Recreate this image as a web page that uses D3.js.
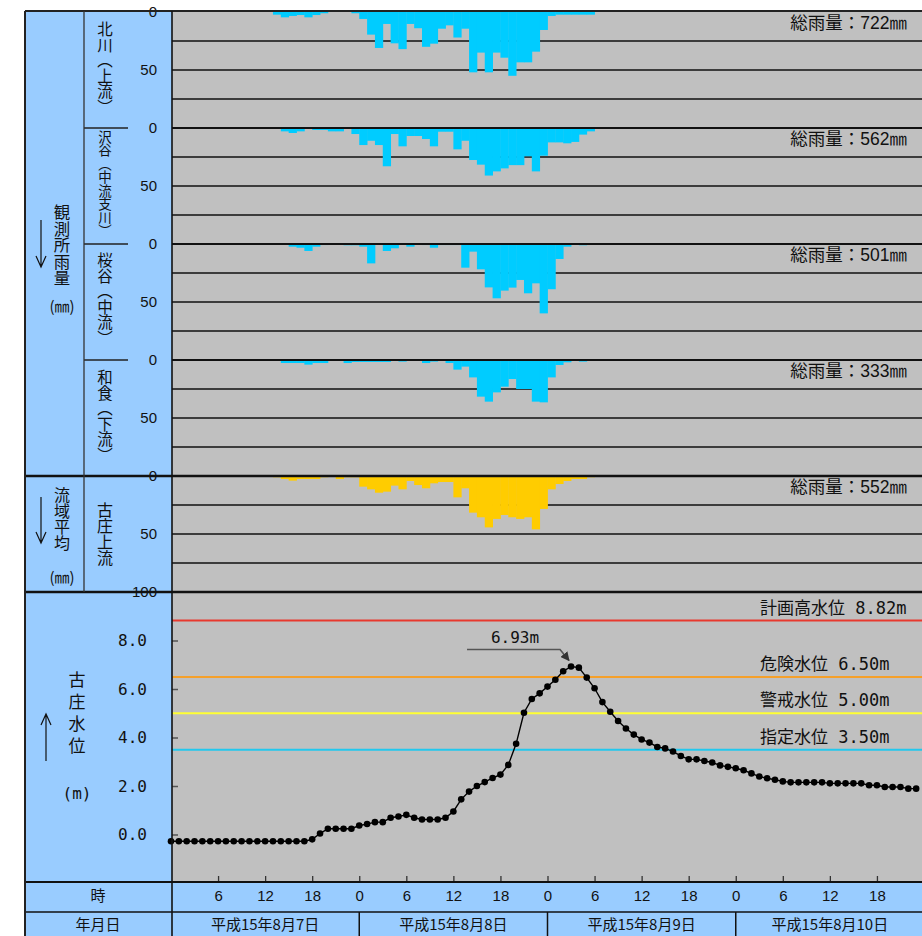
<!DOCTYPE html>
<html><head><meta charset="utf-8">
<script src="https://cdn.jsdelivr.net/npm/d3@7"></script>
<style>body{margin:0;background:#fff;} svg{display:block;} .vt{writing-mode:vertical-rl;}</style>
</head><body><svg id="c" width="922" height="936"></svg>
<script>
// ---------------- DATA ----------------
const hours = d3.range(96);
const hourTicks = d3.range(6, 96, 6);
const hourTickLabels = ["6","12","18","0","6","12","18","0","6","12","18","0","6","12","18"];
const dateLabels = ["平成15年8月7日","平成15年8月8日","平成15年8月9日","平成15年8月10日"];
const rainTicks = [0, 50];
const levelTicks = [0, 2, 4, 6, 8];
const stationNames = ["北川（上流）","沢谷（中流支川）","桜谷（中流）","和食（下流）","古庄上流"];
const totalRain = ["総雨量：722㎜","総雨量：562㎜","総雨量：501㎜","総雨量：333㎜","総雨量：552㎜"];

const rainKitagawa = [
 0,0,0,0,0,0,0,0,0,0,0,0,0,2.3,4.6,3.4,2.6,4.6,2.6,1.1,0,0,0,1.1,
 6,19.5,31,10.3,27,32,10.3,14,30,27.3,14.4,11.5,22,14.4,52,35,52,35,39.4,55,43.4,43.4,34.2,15.5,
 3.4,2.3,2.3,2.3,2.3,2.3,0,0,0,0,0,0,0,0,0,0,0,0,0,0,0,0,0,0,
 0,0,0,0,0,0,0,0,0,0,0,0,0,0,0,0,0,0,0,0,0,0,0,0];
const rainSawadani = [
 0,0,0,0,0,0,0,0,0,0,0,0,0,0,2.9,4.3,2.9,0,1.7,1.7,2.9,2.9,0,5.2,
 14.7,11,14.7,33,5.2,15.8,6.9,6.9,9.5,15.8,3.2,3.2,18.4,11,27.6,31.6,41,37.4,34.8,32,32,24.4,37.4,23.9,
 12.4,12.4,13.2,12,5.7,2.9,0,0,0,0,0,0,0,0,0,0,0,0,0,0,0,0,0,0,
 0,0,0,0,0,0,0,0,0,0,0,0,0,0,0,0,0,0,0,0,0,0,0,0];
const rainSakuradani = [
 0,0,0,0,0,0,0,0,0,0,0,0,0,0,0,2.3,3.2,6,2.3,0.9,0,0,1.1,1.1,
 2.3,16.7,0,6,3.7,0,2.3,0,0.9,3.2,0.9,0.9,0.9,20.4,6.6,21.8,37.4,46.8,40.2,37.6,31,42.5,33.9,59.8,
 39,12.9,2.3,0,1.1,0,0,0,0,0,0,0,0,0,0,0,0,0,0,0,0,0,0,0,
 0,0,0,0,0,0,0,0,0,0,0,0,0,0,0,0,0,0,0,0,0,0,0,0];
const rainWajiki = [
 0,0,0,0,0,0,0,0,0,0,0,0,0,0,2.6,2.6,2.6,4,2.6,2.6,0,0,2.6,1.7,
 1.7,1.7,1.7,1.7,0,1.4,0,0,2.6,1.4,0,2.6,8.3,5.7,15,31.6,35.9,27.9,23,16.4,25,25,35.9,36.5,
 15,4.3,2,0,1.4,0,0,0,0,0,0,0,0,0,0,0,0,0,0,0,0,0,0,0,
 0,0,0,0,0,0,0,0,0,0,0,0,0,0,0,0,0,0,0,0,0,0,0,0];
const rainFurusho = [
 0,0,0,0,0,0,0,0,0,0,0,0,0,1.1,2.6,4,2.6,2.6,2.6,1.1,0,2.6,1.1,1.1,
 9.2,11.5,14.4,13.5,8.3,11.5,4.3,7.8,10.6,6.3,5.2,5.2,18.4,10.6,31.6,35.6,44.3,37,33.6,35.6,37,35.6,46,28.4,
 11.5,6.9,4.3,2.6,2.6,1.1,0,0,0,0,0,0,0,0,0,0,0,0,0,0,0,0,0,0,
 0,0,0,0,0,0,0,0,0,0,0,0,0,0,0,0,0,0,0,0,0,0,0,0];

const waterLevel = [
 -0.28,-0.28,-0.28,-0.28,-0.28,-0.28,-0.28,-0.28,-0.28,-0.28,-0.28,-0.28,-0.28,-0.28,-0.28,-0.28,-0.28,-0.28,-0.2,0.04,0.24,0.24,0.24,0.24,
 0.37,0.43,0.51,0.51,0.69,0.74,0.81,0.69,0.62,0.62,0.62,0.69,0.95,1.45,1.77,2.0,2.16,2.33,2.47,2.87,3.74,5.02,5.59,5.82,
 6.1,6.38,6.73,6.93,6.88,6.47,6.03,5.46,5.06,4.68,4.37,4.12,3.92,3.79,3.61,3.55,3.42,3.24,3.1,3.1,3.03,2.97,2.85,2.79,
 2.73,2.65,2.52,2.39,2.32,2.26,2.19,2.15,2.15,2.15,2.15,2.15,2.11,2.11,2.11,2.11,2.11,2.03,2.03,1.96,1.96,1.96,1.89,1.89];

const refLevels = [8.82, 6.50, 5.00, 3.50];
const refLabels = ["計画高水位 8.82m","危険水位 6.50m","警戒水位 5.00m","指定水位 3.50m"];
const refColors = ["#e8392e","#f5a02a","#ffff33","#22c8ee"];
const peakLabel = "6.93m";

const rainSeries = [rainKitagawa, rainSawadani, rainSakuradani, rainWajiki, rainFurusho];
const barColors = ["#00ccff","#00ccff","#00ccff","#00ccff","#ffcc00"];

// ---------------- LAYOUT ----------------
const svg = d3.select("#c");
const W = 922, H = 936;
const FL = 25, FT = 11, PL = 172;
const x = d3.scaleLinear().domain([0, 96]).range([171, 924]);
const PT = 12, PH = 116;
const WT = 592, WB = 882;
const yW = d3.scaleLinear().domain([-2, 10]).range([883, 592]);
const jp = "'Noto Sans CJK JP', sans-serif";
const sansJp = "'Liberation Sans', 'Noto Sans CJK JP', sans-serif";
const monoJp = "'DejaVu Sans Mono', 'Noto Sans CJK JP', monospace";

// backgrounds
svg.append("rect").attr("x", FL).attr("y", FT).attr("width", PL - FL).attr("height", H - FT).attr("fill", "#99ccff");
svg.append("rect").attr("x", PL).attr("y", FT).attr("width", W - PL).attr("height", WB - FT).attr("fill", "#c0c0c0");
svg.append("rect").attr("x", PL).attr("y", WB).attr("width", W - PL).attr("height", H - WB).attr("fill", "#99ccff");

// rain panels
rainSeries.forEach((series, i) => {
  const top = PT + PH * i;
  const yR = d3.scaleLinear().domain([0, 100]).range([top, top + PH]);
  const g = svg.append("g");
  g.selectAll("line.grid").data([25, 50, 75]).join("line")
    .attr("x1", PL).attr("x2", W).attr("y1", d => yR(d)).attr("y2", d => yR(d))
    .attr("stroke", "#111").attr("stroke-width", 1.6);
  g.selectAll("rect").data(hours.filter(h => series[h] > 0)).join("rect")
    .attr("x", h => x(h)).attr("width", h => x(h + 1) - x(h) + 0.4)
    .attr("y", top).attr("height", h => yR(series[h]) - top)
    .attr("fill", barColors[i]);
  const ax = d3.axisLeft(yR).tickValues(i === 4 ? [0, 50, 100] : rainTicks).tickSize(0).tickPadding(15);
  const ag = svg.append("g").attr("transform", `translate(${PL},0)`).call(ax);
  ag.select(".domain").remove();
  ag.selectAll("text").attr("font-family", "'Liberation Sans', sans-serif").attr("font-size", 15).attr("fill", "#111");
  svg.append("text").attr("x", 907).attr("y", top + 11).attr("dy", "0.36em").attr("text-anchor", "end")
    .attr("font-family", sansJp).attr("font-size", 17.5).attr("fill", "#111").text(totalRain[i]);
});

// panel boundary lines
[1, 2, 3].forEach(i => {
  svg.append("line").attr("x1", PL).attr("x2", W).attr("y1", PT + PH * i).attr("y2", PT + PH * i)
    .attr("stroke", "#111").attr("stroke-width", 2);
  svg.append("line").attr("x1", 84).attr("x2", 128).attr("y1", PT + PH * i).attr("y2", PT + PH * i)
    .attr("stroke", "#222").attr("stroke-width", 1.3);
});
[PT + PH * 4, WT].forEach(yy => {
  svg.append("line").attr("x1", FL).attr("x2", W).attr("y1", yy).attr("y2", yy)
    .attr("stroke", "#111").attr("stroke-width", 2.6);
});

// water level
refLevels.forEach((v, i) => {
  svg.append("line").attr("x1", PL).attr("x2", W).attr("y1", yW(v)).attr("y2", yW(v))
    .attr("stroke", refColors[i]).attr("stroke-width", 2);
  svg.append("text").attr("x", 760).attr("y", yW(v) - 13).attr("dy", "0.36em")
    .attr("font-family", monoJp).attr("font-size", 17).attr("fill", "#111").text(refLabels[i]);
});
const lineGen = d3.line().x((d, h) => x(h)).y(d => yW(d));
svg.append("path").datum(waterLevel).attr("d", lineGen).attr("fill", "none").attr("stroke", "#000").attr("stroke-width", 1.4);
svg.selectAll("circle.wl").data(waterLevel).join("circle")
  .attr("cx", (d, h) => x(h)).attr("cy", d => yW(d)).attr("r", 3.3).attr("fill", "#000");

// level axis
const lax = d3.axisLeft(yW).tickValues(levelTicks).tickSizeInner(-6).tickSizeOuter(0).tickPadding(25).tickFormat(d3.format(".1f"));
const lag = svg.append("g").attr("transform", `translate(${PL},0)`).call(lax);
lag.select(".domain").remove();
lag.selectAll("line").attr("stroke", "#555").attr("stroke-width", 1.5);
lag.selectAll("text").attr("font-family", "'DejaVu Sans Mono', monospace").attr("font-size", 16).attr("fill", "#111");

// peak annotation
const peakH = waterLevel.indexOf(d3.max(waterLevel));
const px = x(peakH), py = yW(waterLevel[peakH]);
svg.append("defs").append("marker").attr("id", "ah").attr("viewBox", "0 0 10 10").attr("refX", 9).attr("refY", 5)
  .attr("markerWidth", 9).attr("markerHeight", 9).attr("orient", "auto").attr("markerUnits", "userSpaceOnUse")
  .append("path").attr("d", "M0,0L10,5L0,10z").attr("fill", "#333");
svg.append("path").attr("d", `M${px - 104},${py - 17}L${px - 11},${py - 17}L${px - 2},${py - 6}`)
  .attr("fill", "none").attr("stroke", "#555").attr("stroke-width", 1.6).attr("marker-end", "url(#ah)");
svg.append("text").attr("x", px - 56).attr("y", py - 29).attr("dy", "0.36em").attr("text-anchor", "middle")
  .attr("font-family", "'DejaVu Sans Mono', monospace").attr("font-size", 16).attr("fill", "#111").text(peakLabel);

// time axis
const tax = d3.axisBottom(x).tickValues(hourTicks).tickSizeInner(-6).tickSizeOuter(0).tickPadding(8)
  .tickFormat((d, i) => hourTickLabels[i]);
const tag = svg.append("g").attr("transform", `translate(0,${WB})`).call(tax);
tag.select(".domain").remove();
tag.selectAll("line").attr("stroke", "#333").attr("stroke-width", 1.3);
tag.selectAll("text").attr("font-family", "'Liberation Sans', sans-serif").attr("font-size", 15).attr("fill", "#111");

svg.append("line").attr("x1", FL).attr("x2", W).attr("y1", WB).attr("y2", WB).attr("stroke", "#111").attr("stroke-width", 1.8);
svg.append("line").attr("x1", FL).attr("x2", W).attr("y1", 912).attr("y2", 912).attr("stroke", "#111").attr("stroke-width", 1.6);
[24, 48, 72].forEach(h => {
  svg.append("line").attr("x1", x(h)).attr("x2", x(h)).attr("y1", 912).attr("y2", H).attr("stroke", "#111").attr("stroke-width", 1.5);
});
dateLabels.forEach((t, d) => {
  svg.append("text").attr("x", x(24 * d + 12)).attr("y", 925).attr("dy", "0.36em").attr("text-anchor", "middle")
    .attr("font-family", jp).attr("font-size", 15).attr("fill", "#111").text(t);
});
svg.append("text").attr("x", 98).attr("y", 896).attr("dy", "0.36em").attr("text-anchor", "middle")
  .attr("font-family", jp).attr("font-size", 15).attr("fill", "#111").text("時");
svg.append("text").attr("x", 98).attr("y", 925).attr("dy", "0.36em").attr("text-anchor", "middle")
  .attr("font-family", jp).attr("font-size", 15).attr("fill", "#111").text("年月日");

// frame lines
svg.append("line").attr("x1", FL).attr("x2", W).attr("y1", FT).attr("y2", FT).attr("stroke", "#222").attr("stroke-width", 2);
svg.append("line").attr("x1", FL).attr("x2", FL).attr("y1", FT).attr("y2", H).attr("stroke", "#222").attr("stroke-width", 2);
svg.append("line").attr("x1", PL).attr("x2", PL).attr("y1", FT).attr("y2", H).attr("stroke", "#111").attr("stroke-width", 1.6);
svg.append("line").attr("x1", 84).attr("x2", 84).attr("y1", FT).attr("y2", WT).attr("stroke", "#333").attr("stroke-width", 1.3);

// vertical labels: one text element each, vertical writing mode
function vlabel(t, xx, cy, fs, ls) {
  svg.append("text").attr("class", "vt").attr("x", xx).attr("y", cy).attr("text-anchor", "middle")
    .attr("font-family", jp).attr("font-size", fs).attr("letter-spacing", ls || 0).attr("fill", "#111").text(t);
}
const stationCY = [68, 184, 299, 416, 534];
const stationFS = [15.5, 13.5, 15.5, 15.5, 16];
stationNames.forEach((t, i) => vlabel(t, 105, stationCY[i], stationFS[i]));
vlabel("観測所雨量", 62, 245, 16.4);
vlabel("流域平均", 62, 519, 16);
vlabel("古庄水位", 77, 715, 17, 5);
[307, 578].forEach(yy => svg.append("text").attr("x", 62).attr("y", yy).attr("dy", "0.36em").attr("text-anchor", "middle")
  .attr("font-family", jp).attr("font-size", 15).attr("fill", "#111").text("(㎜)"));
svg.append("text").attr("x", 77).attr("y", 793).attr("dy", "0.36em").attr("text-anchor", "middle")
  .attr("font-family", "'DejaVu Sans Mono', monospace").attr("font-size", 16).attr("fill", "#111").text("(m)");

function arrow(xx, y1, y2) {
  const d = y2 > y1 ? 1 : -1;
  svg.append("path").attr("d", `M${xx},${y1}L${xx},${y2}M${xx - 5},${y2 - 11 * d}L${xx},${y2}L${xx + 5},${y2 - 11 * d}`)
    .attr("fill", "none").attr("stroke", "#111").attr("stroke-width", 1.2);
}
arrow(41, 220, 267);
arrow(41, 497, 543);
arrow(46, 761, 714);
</script></body></html>
